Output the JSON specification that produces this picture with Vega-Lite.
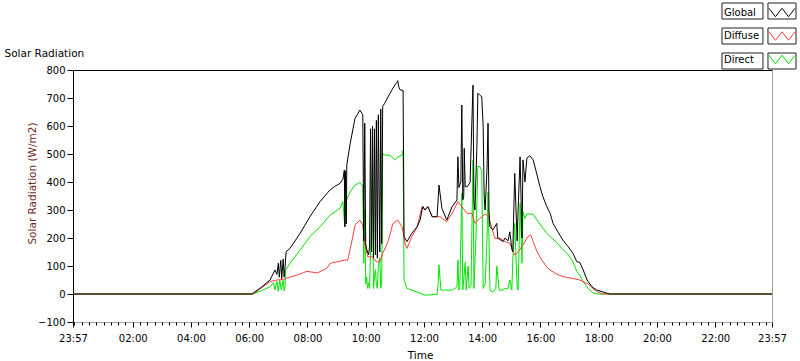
{
"$schema": "https://vega.github.io/schema/vega-lite/v6.json",
"width": 699, "height": 252,
"autosize": {"type": "none"},
"padding": {"left": 73, "top": 70, "right": 28, "bottom": 39},
"background": "white",
"config": {
 "view": {"stroke": "#000", "strokeWidth": 1},
 "axis": {"labelFont": "DejaVu Sans", "titleFont": "DejaVu Sans", "labelFontSize": 10, "titleFontSize": 10.5, "labelColor": "#000", "tickColor": "#000", "titleFontWeight": "normal", "titleColor": "#000", "grid": false},
 "legend": {"labelFont": "DejaVu Sans", "labelFontSize": 10, "labelColor": "#000"}
},
"data": {"format": {"parse": {"t": "date:'%d %H:%M'"}}, "values": [
{"t":"1 23:57","s":"Direct","v":0},{"t":"2 06:00","s":"Direct","v":0},{"t":"2 06:08","s":"Direct","v":0},{"t":"2 06:28","s":"Direct","v":14},{"t":"2 06:43","s":"Direct","v":26},{"t":"2 06:50","s":"Direct","v":40},{"t":"2 06:53","s":"Direct","v":15},{"t":"2 06:57","s":"Direct","v":45},{"t":"2 07:00","s":"Direct","v":10},{"t":"2 07:03","s":"Direct","v":50},{"t":"2 07:06","s":"Direct","v":15},{"t":"2 07:10","s":"Direct","v":50},{"t":"2 07:12","s":"Direct","v":10},{"t":"2 07:14","s":"Direct","v":30},{"t":"2 07:15","s":"Direct","v":86},{"t":"2 07:24","s":"Direct","v":110},{"t":"2 07:45","s":"Direct","v":157},{"t":"2 08:05","s":"Direct","v":205},{"t":"2 08:26","s":"Direct","v":240},{"t":"2 08:46","s":"Direct","v":281},{"t":"2 08:57","s":"Direct","v":294},{"t":"2 09:07","s":"Direct","v":306},{"t":"2 09:13","s":"Direct","v":330},{"t":"2 09:17","s":"Direct","v":240},{"t":"2 09:19","s":"Direct","v":330},{"t":"2 09:28","s":"Direct","v":365},{"t":"2 09:38","s":"Direct","v":389},{"t":"2 09:48","s":"Direct","v":398},{"t":"2 09:54","s":"Direct","v":386},{"t":"2 09:56","s":"Direct","v":110},{"t":"2 09:58","s":"Direct","v":300},{"t":"2 10:00","s":"Direct","v":36},{"t":"2 10:02","s":"Direct","v":60},{"t":"2 10:04","s":"Direct","v":20},{"t":"2 10:06","s":"Direct","v":40},{"t":"2 10:08","s":"Direct","v":20},{"t":"2 10:12","s":"Direct","v":300},{"t":"2 10:14","s":"Direct","v":467},{"t":"2 10:16","s":"Direct","v":20},{"t":"2 10:18","s":"Direct","v":60},{"t":"2 10:20","s":"Direct","v":87},{"t":"2 10:22","s":"Direct","v":30},{"t":"2 10:24","s":"Direct","v":20},{"t":"2 10:26","s":"Direct","v":100},{"t":"2 10:29","s":"Direct","v":129},{"t":"2 10:31","s":"Direct","v":20},{"t":"2 10:33","s":"Direct","v":50},{"t":"2 10:35","s":"Direct","v":502},{"t":"2 10:39","s":"Direct","v":496},{"t":"2 10:50","s":"Direct","v":496},{"t":"2 11:00","s":"Direct","v":479},{"t":"2 11:06","s":"Direct","v":489},{"t":"2 11:15","s":"Direct","v":496},{"t":"2 11:17","s":"Direct","v":514},{"t":"2 11:19","s":"Direct","v":50},{"t":"2 11:25","s":"Direct","v":20},{"t":"2 11:35","s":"Direct","v":14},{"t":"2 11:46","s":"Direct","v":7},{"t":"2 12:02","s":"Direct","v":-4},{"t":"2 12:27","s":"Direct","v":-2},{"t":"2 12:29","s":"Direct","v":30},{"t":"2 12:31","s":"Direct","v":104},{"t":"2 12:35","s":"Direct","v":14},{"t":"2 12:43","s":"Direct","v":14},{"t":"2 12:58","s":"Direct","v":14},{"t":"2 13:04","s":"Direct","v":20},{"t":"2 13:08","s":"Direct","v":26},{"t":"2 13:10","s":"Direct","v":121},{"t":"2 13:12","s":"Direct","v":14},{"t":"2 13:14","s":"Direct","v":30},{"t":"2 13:16","s":"Direct","v":200},{"t":"2 13:18","s":"Direct","v":360},{"t":"2 13:20","s":"Direct","v":14},{"t":"2 13:25","s":"Direct","v":113},{"t":"2 13:27","s":"Direct","v":14},{"t":"2 13:31","s":"Direct","v":100},{"t":"2 13:33","s":"Direct","v":20},{"t":"2 13:37","s":"Direct","v":30},{"t":"2 13:41","s":"Direct","v":479},{"t":"2 13:43","s":"Direct","v":20},{"t":"2 13:47","s":"Direct","v":200},{"t":"2 13:49","s":"Direct","v":324},{"t":"2 13:51","s":"Direct","v":455},{"t":"2 13:55","s":"Direct","v":455},{"t":"2 13:59","s":"Direct","v":440},{"t":"2 14:02","s":"Direct","v":20},{"t":"2 14:06","s":"Direct","v":36},{"t":"2 14:10","s":"Direct","v":200},{"t":"2 14:12","s":"Direct","v":365},{"t":"2 14:16","s":"Direct","v":14},{"t":"2 14:22","s":"Direct","v":7},{"t":"2 14:28","s":"Direct","v":20},{"t":"2 14:30","s":"Direct","v":100},{"t":"2 14:35","s":"Direct","v":14},{"t":"2 14:43","s":"Direct","v":14},{"t":"2 14:47","s":"Direct","v":20},{"t":"2 14:53","s":"Direct","v":20},{"t":"2 14:57","s":"Direct","v":50},{"t":"2 15:01","s":"Direct","v":14},{"t":"2 15:03","s":"Direct","v":121},{"t":"2 15:07","s":"Direct","v":252},{"t":"2 15:12","s":"Direct","v":20},{"t":"2 15:14","s":"Direct","v":14},{"t":"2 15:18","s":"Direct","v":324},{"t":"2 15:22","s":"Direct","v":110},{"t":"2 15:24","s":"Direct","v":294},{"t":"2 15:28","s":"Direct","v":270},{"t":"2 15:32","s":"Direct","v":286},{"t":"2 15:38","s":"Direct","v":286},{"t":"2 15:45","s":"Direct","v":285},{"t":"2 15:53","s":"Direct","v":264},{"t":"2 16:03","s":"Direct","v":240},{"t":"2 16:13","s":"Direct","v":217},{"t":"2 16:24","s":"Direct","v":199},{"t":"2 16:34","s":"Direct","v":183},{"t":"2 16:44","s":"Direct","v":163},{"t":"2 16:55","s":"Direct","v":145},{"t":"2 17:05","s":"Direct","v":121},{"t":"2 17:11","s":"Direct","v":98},{"t":"2 17:15","s":"Direct","v":80},{"t":"2 17:21","s":"Direct","v":68},{"t":"2 17:28","s":"Direct","v":44},{"t":"2 17:38","s":"Direct","v":20},{"t":"2 17:48","s":"Direct","v":4},{"t":"2 17:58","s":"Direct","v":0},{"t":"2 23:57","s":"Direct","v":0},
{"t":"1 23:57","s":"Diffuse","v":0},{"t":"2 06:00","s":"Diffuse","v":0},{"t":"2 06:08","s":"Diffuse","v":0},{"t":"2 06:28","s":"Diffuse","v":26},{"t":"2 06:43","s":"Diffuse","v":44},{"t":"2 06:57","s":"Diffuse","v":50},{"t":"2 07:10","s":"Diffuse","v":52},{"t":"2 07:18","s":"Diffuse","v":57},{"t":"2 07:38","s":"Diffuse","v":67},{"t":"2 07:59","s":"Diffuse","v":81},{"t":"2 08:20","s":"Diffuse","v":75},{"t":"2 08:40","s":"Diffuse","v":92},{"t":"2 08:46","s":"Diffuse","v":108},{"t":"2 08:51","s":"Diffuse","v":112},{"t":"2 09:01","s":"Diffuse","v":115},{"t":"2 09:17","s":"Diffuse","v":121},{"t":"2 09:23","s":"Diffuse","v":121},{"t":"2 09:32","s":"Diffuse","v":193},{"t":"2 09:38","s":"Diffuse","v":246},{"t":"2 09:48","s":"Diffuse","v":264},{"t":"2 09:54","s":"Diffuse","v":246},{"t":"2 09:58","s":"Diffuse","v":181},{"t":"2 10:04","s":"Diffuse","v":133},{"t":"2 10:14","s":"Diffuse","v":133},{"t":"2 10:22","s":"Diffuse","v":115},{"t":"2 10:29","s":"Diffuse","v":115},{"t":"2 10:35","s":"Diffuse","v":145},{"t":"2 10:46","s":"Diffuse","v":187},{"t":"2 10:56","s":"Diffuse","v":252},{"t":"2 11:06","s":"Diffuse","v":264},{"t":"2 11:15","s":"Diffuse","v":240},{"t":"2 11:21","s":"Diffuse","v":181},{"t":"2 11:25","s":"Diffuse","v":163},{"t":"2 11:35","s":"Diffuse","v":205},{"t":"2 11:46","s":"Diffuse","v":240},{"t":"2 11:56","s":"Diffuse","v":312},{"t":"2 12:02","s":"Diffuse","v":300},{"t":"2 12:08","s":"Diffuse","v":312},{"t":"2 12:17","s":"Diffuse","v":276},{"t":"2 12:33","s":"Diffuse","v":276},{"t":"2 12:47","s":"Diffuse","v":258},{"t":"2 13:00","s":"Diffuse","v":294},{"t":"2 13:10","s":"Diffuse","v":330},{"t":"2 13:18","s":"Diffuse","v":312},{"t":"2 13:29","s":"Diffuse","v":288},{"t":"2 13:39","s":"Diffuse","v":288},{"t":"2 13:45","s":"Diffuse","v":252},{"t":"2 13:55","s":"Diffuse","v":270},{"t":"2 14:06","s":"Diffuse","v":285},{"t":"2 14:12","s":"Diffuse","v":280},{"t":"2 14:20","s":"Diffuse","v":235},{"t":"2 14:26","s":"Diffuse","v":199},{"t":"2 14:37","s":"Diffuse","v":199},{"t":"2 14:47","s":"Diffuse","v":187},{"t":"2 14:57","s":"Diffuse","v":181},{"t":"2 15:07","s":"Diffuse","v":139},{"t":"2 15:14","s":"Diffuse","v":151},{"t":"2 15:24","s":"Diffuse","v":175},{"t":"2 15:34","s":"Diffuse","v":205},{"t":"2 15:40","s":"Diffuse","v":211},{"t":"2 15:45","s":"Diffuse","v":187},{"t":"2 15:53","s":"Diffuse","v":151},{"t":"2 16:03","s":"Diffuse","v":121},{"t":"2 16:15","s":"Diffuse","v":92},{"t":"2 16:30","s":"Diffuse","v":74},{"t":"2 16:46","s":"Diffuse","v":62},{"t":"2 17:05","s":"Diffuse","v":56},{"t":"2 17:21","s":"Diffuse","v":50},{"t":"2 17:38","s":"Diffuse","v":36},{"t":"2 17:48","s":"Diffuse","v":20},{"t":"2 17:58","s":"Diffuse","v":7},{"t":"2 18:09","s":"Diffuse","v":0},{"t":"2 23:57","s":"Diffuse","v":0},
{"t":"1 23:57","s":"Global","v":0},{"t":"2 06:00","s":"Global","v":0},{"t":"2 06:05","s":"Global","v":0},{"t":"2 06:22","s":"Global","v":20},{"t":"2 06:43","s":"Global","v":50},{"t":"2 06:53","s":"Global","v":86},{"t":"2 06:57","s":"Global","v":70},{"t":"2 07:00","s":"Global","v":110},{"t":"2 07:02","s":"Global","v":60},{"t":"2 07:05","s":"Global","v":120},{"t":"2 07:07","s":"Global","v":55},{"t":"2 07:10","s":"Global","v":125},{"t":"2 07:12","s":"Global","v":60},{"t":"2 07:14","s":"Global","v":100},{"t":"2 07:16","s":"Global","v":151},{"t":"2 07:24","s":"Global","v":163},{"t":"2 07:45","s":"Global","v":217},{"t":"2 08:05","s":"Global","v":276},{"t":"2 08:26","s":"Global","v":330},{"t":"2 08:46","s":"Global","v":371},{"t":"2 08:57","s":"Global","v":385},{"t":"2 09:07","s":"Global","v":395},{"t":"2 09:13","s":"Global","v":410},{"t":"2 09:16","s":"Global","v":443},{"t":"2 09:17","s":"Global","v":240},{"t":"2 09:18","s":"Global","v":440},{"t":"2 09:20","s":"Global","v":250},{"t":"2 09:21","s":"Global","v":460},{"t":"2 09:28","s":"Global","v":538},{"t":"2 09:38","s":"Global","v":627},{"t":"2 09:48","s":"Global","v":657},{"t":"2 09:52","s":"Global","v":646},{"t":"2 09:54","s":"Global","v":640},{"t":"2 09:56","s":"Global","v":190},{"t":"2 09:58","s":"Global","v":610},{"t":"2 10:00","s":"Global","v":180},{"t":"2 10:02","s":"Global","v":160},{"t":"2 10:04","s":"Global","v":150},{"t":"2 10:06","s":"Global","v":140},{"t":"2 10:08","s":"Global","v":170},{"t":"2 10:10","s":"Global","v":590},{"t":"2 10:12","s":"Global","v":150},{"t":"2 10:14","s":"Global","v":600},{"t":"2 10:16","s":"Global","v":130},{"t":"2 10:18","s":"Global","v":590},{"t":"2 10:20","s":"Global","v":140},{"t":"2 10:22","s":"Global","v":620},{"t":"2 10:24","s":"Global","v":128},{"t":"2 10:26","s":"Global","v":640},{"t":"2 10:29","s":"Global","v":150},{"t":"2 10:31","s":"Global","v":660},{"t":"2 10:33","s":"Global","v":180},{"t":"2 10:35","s":"Global","v":670},{"t":"2 10:39","s":"Global","v":681},{"t":"2 10:50","s":"Global","v":717},{"t":"2 11:00","s":"Global","v":746},{"t":"2 11:04","s":"Global","v":755},{"t":"2 11:06","s":"Global","v":762},{"t":"2 11:08","s":"Global","v":740},{"t":"2 11:11","s":"Global","v":729},{"t":"2 11:17","s":"Global","v":727},{"t":"2 11:19","s":"Global","v":205},{"t":"2 11:25","s":"Global","v":187},{"t":"2 11:35","s":"Global","v":217},{"t":"2 11:46","s":"Global","v":240},{"t":"2 11:52","s":"Global","v":264},{"t":"2 11:56","s":"Global","v":300},{"t":"2 11:58","s":"Global","v":312},{"t":"2 12:02","s":"Global","v":300},{"t":"2 12:08","s":"Global","v":312},{"t":"2 12:17","s":"Global","v":276},{"t":"2 12:27","s":"Global","v":276},{"t":"2 12:31","s":"Global","v":389},{"t":"2 12:37","s":"Global","v":306},{"t":"2 12:47","s":"Global","v":264},{"t":"2 12:58","s":"Global","v":312},{"t":"2 13:08","s":"Global","v":336},{"t":"2 13:09","s":"Global","v":431},{"t":"2 13:10","s":"Global","v":490},{"t":"2 13:12","s":"Global","v":380},{"t":"2 13:16","s":"Global","v":400},{"t":"2 13:18","s":"Global","v":675},{"t":"2 13:20","s":"Global","v":336},{"t":"2 13:22","s":"Global","v":350},{"t":"2 13:23","s":"Global","v":520},{"t":"2 13:25","s":"Global","v":383},{"t":"2 13:29","s":"Global","v":383},{"t":"2 13:35","s":"Global","v":398},{"t":"2 13:41","s":"Global","v":746},{"t":"2 13:43","s":"Global","v":330},{"t":"2 13:45","s":"Global","v":300},{"t":"2 13:49","s":"Global","v":520},{"t":"2 13:51","s":"Global","v":717},{"t":"2 13:55","s":"Global","v":710},{"t":"2 13:59","s":"Global","v":705},{"t":"2 14:02","s":"Global","v":598},{"t":"2 14:04","s":"Global","v":350},{"t":"2 14:06","s":"Global","v":300},{"t":"2 14:10","s":"Global","v":450},{"t":"2 14:12","s":"Global","v":610},{"t":"2 14:14","s":"Global","v":300},{"t":"2 14:16","s":"Global","v":240},{"t":"2 14:22","s":"Global","v":229},{"t":"2 14:30","s":"Global","v":252},{"t":"2 14:32","s":"Global","v":200},{"t":"2 14:43","s":"Global","v":187},{"t":"2 14:47","s":"Global","v":200},{"t":"2 14:53","s":"Global","v":190},{"t":"2 14:57","s":"Global","v":222},{"t":"2 15:01","s":"Global","v":160},{"t":"2 15:03","s":"Global","v":151},{"t":"2 15:07","s":"Global","v":431},{"t":"2 15:12","s":"Global","v":190},{"t":"2 15:14","s":"Global","v":300},{"t":"2 15:18","s":"Global","v":490},{"t":"2 15:22","s":"Global","v":200},{"t":"2 15:24","s":"Global","v":479},{"t":"2 15:28","s":"Global","v":400},{"t":"2 15:32","s":"Global","v":485},{"t":"2 15:38","s":"Global","v":494},{"t":"2 15:45","s":"Global","v":479},{"t":"2 15:53","s":"Global","v":425},{"t":"2 15:59","s":"Global","v":383},{"t":"2 16:05","s":"Global","v":348},{"t":"2 16:13","s":"Global","v":312},{"t":"2 16:20","s":"Global","v":288},{"t":"2 16:26","s":"Global","v":252},{"t":"2 16:36","s":"Global","v":222},{"t":"2 16:46","s":"Global","v":193},{"t":"2 16:57","s":"Global","v":169},{"t":"2 17:07","s":"Global","v":145},{"t":"2 17:15","s":"Global","v":115},{"t":"2 17:21","s":"Global","v":113},{"t":"2 17:28","s":"Global","v":86},{"t":"2 17:36","s":"Global","v":50},{"t":"2 17:46","s":"Global","v":26},{"t":"2 17:56","s":"Global","v":14},{"t":"2 18:09","s":"Global","v":7},{"t":"2 18:23","s":"Global","v":0},{"t":"2 23:57","s":"Global","v":0}
]},
"layer": [
 {"mark": {"type": "line", "strokeWidth": 1, "interpolate": "linear"},
  "encoding": {
   "x": {"field": "t", "type": "temporal",
    "scale": {"domain": [{"year": 1900, "month": 1, "date": 1, "hours": 23, "minutes": 57}, {"year": 1900, "month": 1, "date": 2, "hours": 23, "minutes": 57}]},
    "axis": {"orient": "bottom", "format": "%H:%M", "labelFlush": false, "labelOverlap": false, "tickSize": 5, "domainColor": "#a0a0a0", "labelBaseline": "alphabetic", "labelPadding": 14,
     "values": [{"year": 1900, "month": 1, "date": 1, "hours": 23, "minutes": 57}, {"year": 1900, "month": 1, "date": 2, "hours": 2}, {"year": 1900, "month": 1, "date": 2, "hours": 4}, {"year": 1900, "month": 1, "date": 2, "hours": 6}, {"year": 1900, "month": 1, "date": 2, "hours": 8}, {"year": 1900, "month": 1, "date": 2, "hours": 10}, {"year": 1900, "month": 1, "date": 2, "hours": 12}, {"year": 1900, "month": 1, "date": 2, "hours": 14}, {"year": 1900, "month": 1, "date": 2, "hours": 16}, {"year": 1900, "month": 1, "date": 2, "hours": 18}, {"year": 1900, "month": 1, "date": 2, "hours": 20}, {"year": 1900, "month": 1, "date": 2, "hours": 22}, {"year": 1900, "month": 1, "date": 2, "hours": 23, "minutes": 57}],
     "title": "Time", "titleX": 347, "titleY": 36, "titleBaseline": "alphabetic"}},
   "y": {"field": "v", "type": "quantitative",
    "scale": {"domain": [-100, 800], "nice": false, "zero": false},
    "axis": {"orient": "left", "values": [-100, 0, 100, 200, 300, 400, 500, 600, 700, 800], "tickSize": 6, "labelPadding": 2, "domainColor": "#000",
     "title": "Solar Radiation (W/m2)", "titleColor": "#6e2a17", "titleX": -38, "titleY": 113, "titleBaseline": "alphabetic", "titleAngle": 270}},
   "color": {"field": "s", "type": "nominal",
    "scale": {"domain": ["Global", "Diffuse", "Direct"], "range": ["#000000", "#ff3c3c", "#00e600"]},
    "legend": {"orient": "none", "legendX": 700, "legendY": -66.5, "title": null, "padding": 0, "rowPadding": 7.5,
     "symbolType": "M-1.53,-0.5L-0.77,0.5L0,-0.5L0.77,0.5L1.53,-0.5", "symbolSize": 289, "symbolStrokeWidth": 1, "symbolFillColor": "transparent",
     "labelOffset": -67}}
  }},
 {"mark": {"type": "point", "opacity": 0},
  "encoding": {
   "x": {"field": "t", "type": "temporal",
    "axis": {"orient": "bottom", "domain": false, "labels": false, "ticks": true, "tickSize": 3, "tickWidth": 1, "tickColor": "#000", "tickCount": 96, "title": null}},
   "y": {"field": "v", "type": "quantitative",
    "axis": {"orient": "right", "domainColor": "#a0a0a0", "ticks": false, "labels": false,
     "title": "Solar Radiation", "titleAngle": 0, "titleX": -768, "titleY": -14, "titleAlign": "left", "titleBaseline": "alphabetic", "titleFontSize": 10.5}},
   "shape": {"field": "s", "type": "nominal",
    "scale": {"domain": ["Global", "Diffuse", "Direct"], "range": ["M-7.06,-0.94H-2.24V0.94H-7.06Z M-1.65,-0.94H1.65V0.94H-1.65Z", "M-7.06,-0.94H-2.24V0.94H-7.06Z M-1.65,-0.94H1.65V0.94H-1.65Z", "M-7.06,-0.94H-2.24V0.94H-7.06Z M-1.65,-0.94H1.65V0.94H-1.65Z"]},
    "legend": {"orient": "none", "legendX": 700, "legendY": -68, "title": null, "padding": 0, "rowPadding": 5,
     "symbolSize": 289, "symbolStrokeWidth": 1, "symbolStrokeColor": "#222", "symbolFillColor": "transparent", "symbolOpacity": 1, "labelExpr": "''"}}
  }}
],
"resolve": {"axis": {"x": "independent", "y": "independent"}, "legend": {"color": "independent", "shape": "independent"}}
}
